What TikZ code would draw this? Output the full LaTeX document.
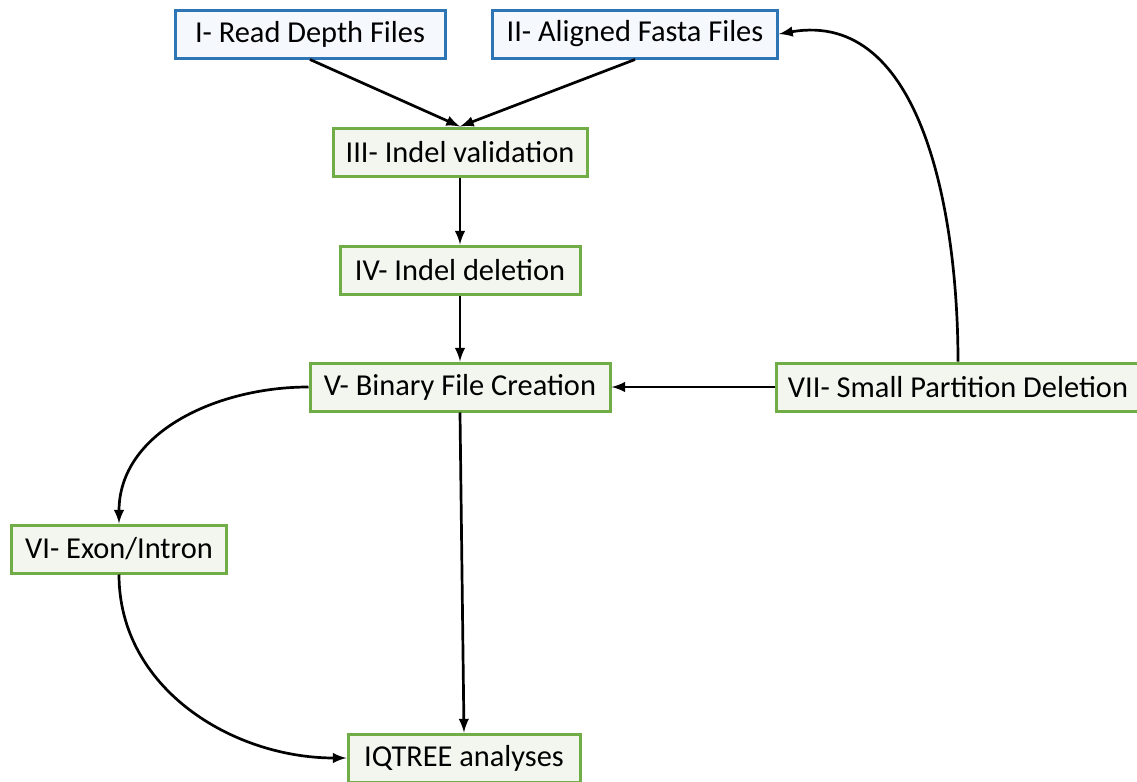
\documentclass[tikz,border=0pt]{standalone}
\usepackage{fontspec}
\setmainfont{Carlito}
\usetikzlibrary{arrows}

\definecolor{fileblue}{RGB}{46,117,182}
\definecolor{fileback}{RGB}{245,248,253}
\definecolor{stagegreen}{RGB}{112,173,71}
\definecolor{stageback}{RGB}{242,246,239}

\tikzset{
	filebox/.style={draw=fileblue, fill=fileback, line width=1.5pt,
		minimum height=24pt, inner xsep=4pt, font=\fontsize{15.2}{17}\selectfont},
	stagebox/.style={filebox, draw=stagegreen, fill=stageback},
	flow/.style={-latex, line width=1.35pt}
}

\begin{document}
\begin{tikzpicture}[x=0.5pt,y=-0.5pt]
		\useasboundingbox (0,0) rectangle (1137,782);

		% input files
		\node[filebox, minimum width=135pt] (depth) at (310,34) {I- Read Depth Files};
		\node[filebox, minimum width=142.5pt] (fasta) at (635,34) {II- Aligned Fasta Files};

		% processing stages
		\node[stagebox, minimum width=127pt] (valid) at (460,152) {III- Indel validation};
		\node[stagebox, minimum width=120pt] (delete) at (460,270) {IV- Indel deletion};
		\node[stagebox, minimum width=150pt] (binary) at (460,387) {V- Binary File Creation};
		\node[stagebox, minimum width=182pt] (small) at (958,387) {VII- Small Partition Deletion};
		\node[stagebox, minimum width=107.5pt] (exon) at (119,549) {VI- Exon/Intron};
		\node[stagebox, minimum width=116pt] (iqtree) at (464,758) {IQTREE analyses};

		\draw[flow] (depth.south) -- (valid.north);
		\draw[flow] (fasta.south) -- (valid.north);
		\draw[flow] (valid) -- (delete);
		\draw[flow] (delete) -- (binary);
		\draw[flow] (small) -- (binary);
		\draw[flow] (small.north) to[out=90,in=10] (fasta.east);
		\draw[flow] (binary.west) to[out=180,in=90] (exon.north);
		\draw[flow] (exon.south) to[out=270,in=180] (iqtree.west);
		\draw[flow] (binary.south) -- (iqtree.north);

	\end{tikzpicture}
\end{document}
